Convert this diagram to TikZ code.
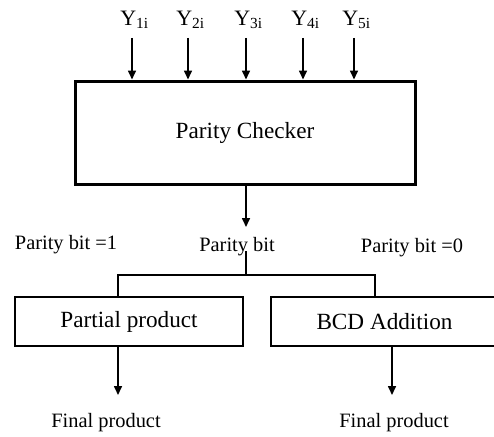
\documentclass[tikz,border=0pt]{standalone}
\usepackage{fontspec}
\setmainfont{Liberation Serif}
\usetikzlibrary{arrows.meta}
\begin{document}
\begin{tikzpicture}[x=1pt,y=-1pt,
  bigtxt/.style={font=\fontsize{23.2}{26}\selectfont},
  smalltxt/.style={font=\fontsize{20.4}{24}\selectfont},
  ytxt/.style={font=\fontsize{22}{25}\selectfont},
  mainbox/.style={draw,line width=3pt,minimum width=340pt,minimum height=103pt,inner sep=0pt,bigtxt},
  subbox/.style={draw,line width=2pt,minimum height=49pt,inner sep=0pt,bigtxt},
  arr/.style={line width=1.6pt,-{Triangle[length=9pt,width=8pt]}},
  wire/.style={line width=2.4pt}]
\useasboundingbox (0,0) rectangle (494,436);
\clip (0,0) rectangle (494,436);
% main block
\node[mainbox] (pc) at (245,132.5) {Parity Checker};
% inputs
\foreach \i/\x in {1/132,2/188,3/246,4/303,5/354}{
  \node[ytxt,inner sep=0pt] (y\i) at (\x+2.5,20) {Y\textsubscript{\i i}};
  \coordinate (t\i) at (\x,38);
  \draw[arr] (t\i) -- (t\i |- pc.north);
}
% parity bit
\coordinate (pbend) at (246,227);
\draw[arr] (pc.south -| pbend) -- (pbend);
\node[smalltxt,inner sep=0pt] (pb) at (237,247) {Parity bit};
\node[smalltxt,inner sep=0pt] (pb1) at (66,245) {Parity bit =1};
\node[smalltxt,inner sep=0pt] (pb0) at (412,248) {Parity bit =0};
% blocks
\node[subbox,minimum width=228pt] (pp) at (129,321.5) {Partial product};
\node[subbox,minimum width=227pt] (bcd) at (384.5,321.5) {BCD Addition};
% branch
\coordinate (js) at (246,251);
\coordinate (j) at (246,275);
\coordinate (jl) at (118,275);
\coordinate (jr) at (375,275);
\draw[wire] (js) -- (j);
\draw[wire] (pp.north -| jl) -- (jl) -- (jr) -- (bcd.north -| jr);
% outputs
\node[smalltxt,inner sep=0pt] (f1) at (106,423) {Final product};
\node[smalltxt,inner sep=0pt] (f2) at (394,423) {Final product};
\coordinate (o1) at (118,395);
\coordinate (o2) at (392,395);
\draw[arr] (pp.south -| o1) -- (o1);
\draw[arr] (bcd.south -| o2) -- (o2);
\end{tikzpicture}
\end{document}
